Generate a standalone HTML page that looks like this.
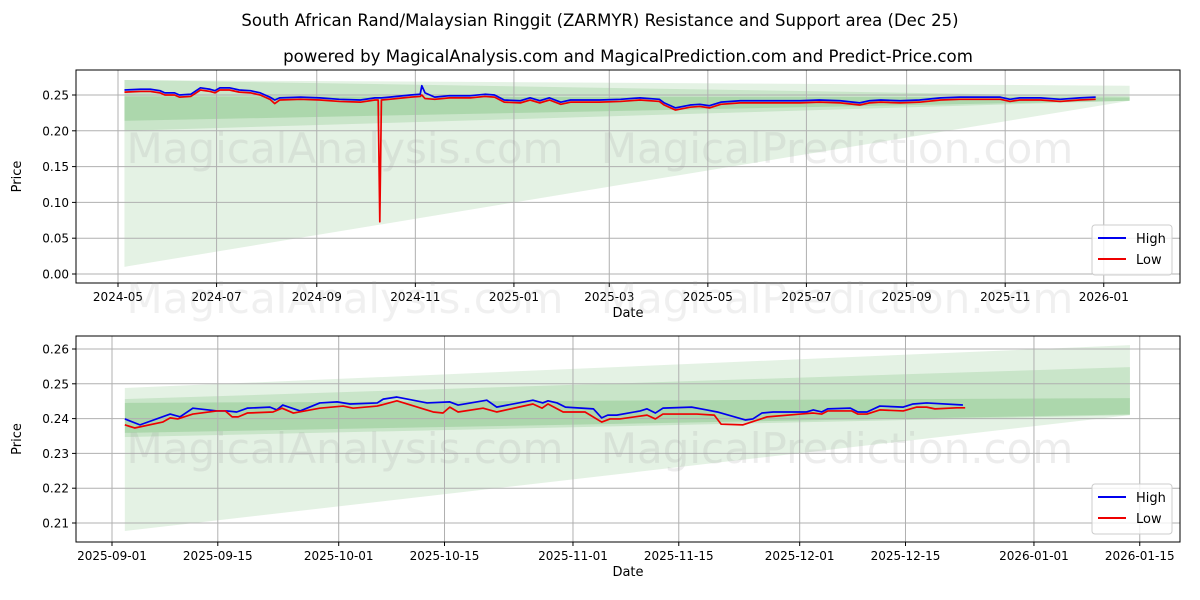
<!DOCTYPE html>
<html><head><meta charset="utf-8"><style>
body{margin:0;background:#fff;font-family:"Liberation Sans","DejaVu Sans",sans-serif}
svg{display:block}
</style></head><body>
<svg id="c" width="1200" height="600" xmlns="http://www.w3.org/2000/svg" font-family="DejaVu Sans, Liberation Sans, sans-serif">
<text x="600" y="26" text-anchor="middle" font-size="16.5" fill="#000">South African Rand/Malaysian Ringgit (ZARMYR) Resistance and Support area (Dec 25)</text>
<text x="628" y="62" text-anchor="middle" font-size="16.6" fill="#000">powered by MagicalAnalysis.com and MagicalPrediction.com and Predict-Price.com</text>
</svg>
<script>
// ---- top chart data (days since 2024-05-01) ----
const topDays=[4,14,20,26,29,35,38,45,51,57,60,63,69,75,82,88,94,97,100,113,125,137,150,159,161,162,163,168,181,187,188,190,196,205,218,227,233,239,249,255,261,267,274,280,286,298,311,323,335,338,345,354,360,366,373,385,397,410,422,434,447,459,465,472,484,496,509,521,533,546,552,558,571,583,595,605];
const topHigh=[.257,.258,.258,.256,.253,.253,.250,.251,.260,.258,.256,.260,.260,.257,.256,.253,.247,.243,.246,.247,.246,.244,.243,.246,.246,.246,.246,.247,.250,.251,.263,.253,.247,.249,.249,.251,.250,.243,.242,.246,.242,.246,.240,.243,.243,.243,.244,.246,.244,.239,.232,.236,.237,.235,.240,.242,.242,.242,.242,.243,.242,.239,.242,.243,.242,.243,.246,.247,.247,.247,.244,.246,.246,.244,.246,.247];
const topLow=[.254,.255,.255,.253,.250,.250,.247,.248,.257,.255,.253,.257,.257,.254,.253,.250,.244,.238,.243,.244,.243,.241,.240,.243,.243,.073,.243,.244,.247,.248,.250,.245,.244,.246,.246,.248,.247,.240,.239,.243,.239,.243,.237,.240,.240,.240,.241,.243,.241,.236,.229,.233,.234,.232,.237,.239,.239,.239,.239,.240,.239,.236,.239,.240,.239,.240,.243,.244,.244,.244,.241,.243,.243,.241,.243,.244];
const topYTicks=[0,0.05,0.10,0.15,0.20,0.25];
const topXTickDays=[0,61,123,184,245,304,365,426,488,549,610];
const topXTickLabels=["2024-05","2024-07","2024-09","2024-11","2025-01","2025-03","2025-05","2025-07","2025-09","2025-11","2026-01"];
const topBandDays=[4,626];
const topBands=[[0.271,0.263,0.010,0.242],[0.271,0.248,0.200,0.242],[0.248,0.247,0.214,0.242]];

// ---- bottom chart data (days since 2025-09-01) ----
const hiDays=[1.7,3.7,7.7,9.0,10.7,13.9,15.2,16.5,17.9,20.9,21.8,22.6,24.9,27.5,29.8,31.5,35.1,35.9,37.7,41.7,44.7,45.8,49.6,50.9,55.7,57.0,57.7,58.9,60.0,63.7,64.8,65.6,66.8,69.9,70.8,71.9,72.9,76.7,78.7,80.1,83.8,84.8,86.0,87.5,91.9,92.8,93.9,94.7,97.7,98.7,99.9,101.6,104.7,106.0,107.8,112.6];
const hiVals=[.2399,.2382,.2413,.2405,.2430,.2422,.2422,.2419,.2430,.2433,.2425,.2439,.2422,.2445,.2448,.2442,.2445,.2456,.2462,.2445,.2448,.2439,.2453,.2433,.2453,.2445,.2451,.2445,.2433,.2428,.2402,.2410,.2410,.2422,.2428,.2416,.2430,.2433,.2425,.2419,.2396,.2399,.2416,.2419,.2419,.2425,.2419,.2428,.2430,.2419,.2419,.2436,.2433,.2442,.2445,.2439];
const loDays=[1.7,3.0,6.7,7.7,8.7,10.7,13.9,15.0,15.9,16.7,17.9,21.3,22.5,24.0,27.5,30.6,31.9,35.1,37.7,42.5,43.8,44.7,45.8,49.1,50.9,55.7,56.9,57.7,59.7,62.6,64.8,65.9,67.2,70.8,71.9,72.9,77.4,79.7,80.6,83.5,86.7,91.1,92.8,93.9,94.7,97.9,98.7,99.9,101.6,104.7,106.5,107.8,108.9,111.8,112.9];
const loVals=[.2382,.2373,.2390,.2402,.2399,.2413,.2422,.2422,.2405,.2405,.2416,.2419,.2430,.2416,.2430,.2436,.2430,.2436,.2451,.2419,.2416,.2433,.2419,.2430,.2419,.2442,.2430,.2442,.2419,.2419,.2390,.2399,.2399,.2410,.2399,.2413,.2413,.2410,.2384,.2382,.2405,.2413,.2416,.2413,.2422,.2422,.2413,.2413,.2425,.2422,.2433,.2433,.2428,.2431,.2431];
const botYTicks=[0.21,0.22,0.23,0.24,0.25,0.26];
const botXTickDays=[0,14,30,44,61,75,91,105,122,136];
const botXTickLabels=["2025-09-01","2025-09-15","2025-10-01","2025-10-15","2025-11-01","2025-11-15","2025-12-01","2025-12-15","2026-01-01","2026-01-15"];
const botBandDays=[1.7,134.7];
const botBands=[[0.2488,0.2611,0.2077,0.2410],[0.2456,0.2548,0.2347,0.2410],[0.2445,0.2459,0.2359,0.2412]];

const NS="http://www.w3.org/2000/svg";
const svg=document.getElementById('c');
function el(tag,attrs,parent){const e=document.createElementNS(NS,tag);for(const k in attrs)e.setAttribute(k,attrs[k]);(parent||svg).appendChild(e);return e;}

function drawPanel(o){
  const g=el('g',{});
  
  
  const X=d=>o.x0+d*o.xs, Y=v=>o.yb-(v-o.vb)*o.ys;
  const alphas=[0.13,0.15,0.18];
  o.bands.forEach((b,i)=>{
    const x1=X(o.bandDays[0]),x2=X(o.bandDays[1]);
    const p=el('polygon',{points:`${x1},${Y(b[0])} ${x2},${Y(b[1])} ${x2},${Y(b[3])} ${x1},${Y(b[2])}`,fill:'#2e9a2e','fill-opacity':alphas[i]},g);
    
    
  });
  o.yTicks.forEach(v=>{
    el('line',{x1:o.L,x2:o.R,y1:Y(v),y2:Y(v),stroke:'#b0b0b0','stroke-width':1},g);
    el('line',{x1:o.L-4,x2:o.L,y1:Y(v),y2:Y(v),stroke:'#000'},g);
    const t=el('text',{x:o.L-7,y:Y(v)+4.5,'text-anchor':'end','font-size':12},g);t.textContent=v.toFixed(2);
    
    
  });
  o.xTickDays.forEach((d,i)=>{
    el('line',{x1:X(d),x2:X(d),y1:o.T,y2:o.B,stroke:'#b0b0b0','stroke-width':1},g);
    el('line',{x1:X(d),x2:X(d),y1:o.B,y2:o.B+4,stroke:'#000'},g);
    const t=el('text',{x:X(d),y:o.B+18,'text-anchor':'middle','font-size':12},g);t.textContent=o.xLabels[i];
    
    
  });
  [[345,o.wm1],[837,o.wm1]].forEach(([x,y],i)=>{
    const t=el('text',{x:x,y:y,'text-anchor':'middle','font-size':42,fill:'#999','fill-opacity':0.18},g);
    t.textContent=i?'MagicalPrediction.com':'MagicalAnalysis.com';
    
    
  });
  const hp=el('polyline',{points:o.hd.map((d,i)=>X(d)+','+Y(o.hv[i])).join(' '),fill:'none',stroke:'#0000ee','stroke-width':1.7,'stroke-linejoin':'round'},g);
  
  
  const lp=el('polyline',{points:o.ld.map((d,i)=>X(d)+','+Y(o.lv[i])).join(' '),fill:'none',stroke:'#ee0000','stroke-width':1.7,'stroke-linejoin':'round'},g);
  
  
  const f=el('rect',{x:o.L,y:o.T,width:o.R-o.L,height:o.B-o.T,fill:'none',stroke:'#000','stroke-width':1},g);
  
  
  const yl=el('text',{x:0,y:0,transform:`translate(${o.L-55},${(o.T+o.B)/2}) rotate(-90)`,'text-anchor':'middle','font-size':13},g);yl.textContent='Price';
  
  
  const xl=el('text',{x:(o.L+o.R)/2,y:o.B+34,'text-anchor':'middle','font-size':13},g);xl.textContent='Date';
  
  
  const lg=el('g',{},g);
  
  
  const lx=o.R-88,ly=o.B-58;
  el('rect',{x:lx,y:ly,width:80,height:50,rx:3,fill:'#fff','fill-opacity':0.8,stroke:'#ccc'},lg);
  [['High','#0000ee'],['Low','#ee0000']].forEach(([n,c],i)=>{
    el('line',{x1:lx+6,x2:lx+34,y1:ly+13+i*21,y2:ly+13+i*21,stroke:c,'stroke-width':2},lg);
    const t=el('text',{x:lx+44,y:ly+18+i*21,'font-size':13},lg);t.textContent=n;
    
    
  });
}
drawPanel({name:'full-history-panel',L:76,R:1180,T:70,B:283,x0:118,xs:1.616,yb:274,vb:0,ys:716,
  bands:topBands,bandDays:topBandDays,yTicks:topYTicks,xTickDays:topXTickDays,xLabels:topXTickLabels,
  hd:topDays,hv:topHigh,ld:topDays,lv:topLow,wm1:163});
drawPanel({name:'recent-zoom-panel',L:76,R:1180,T:336,B:542,x0:112,xs:7.557,yb:349,vb:0.26,ys:3480,
  bands:botBands,bandDays:botBandDays,yTicks:botYTicks,xTickDays:botXTickDays,xLabels:botXTickLabels,
  hd:hiDays,hv:hiVals,ld:loDays,lv:loVals,wm1:463});
[[345,'MagicalAnalysis.com'],[837,'MagicalPrediction.com']].forEach(([x,s])=>{
  const t=el('text',{x:x,y:313,'text-anchor':'middle','font-size':42,fill:'#999','fill-opacity':0.15});
  t.textContent=s;
  
  
});
</script>
</body></html>
